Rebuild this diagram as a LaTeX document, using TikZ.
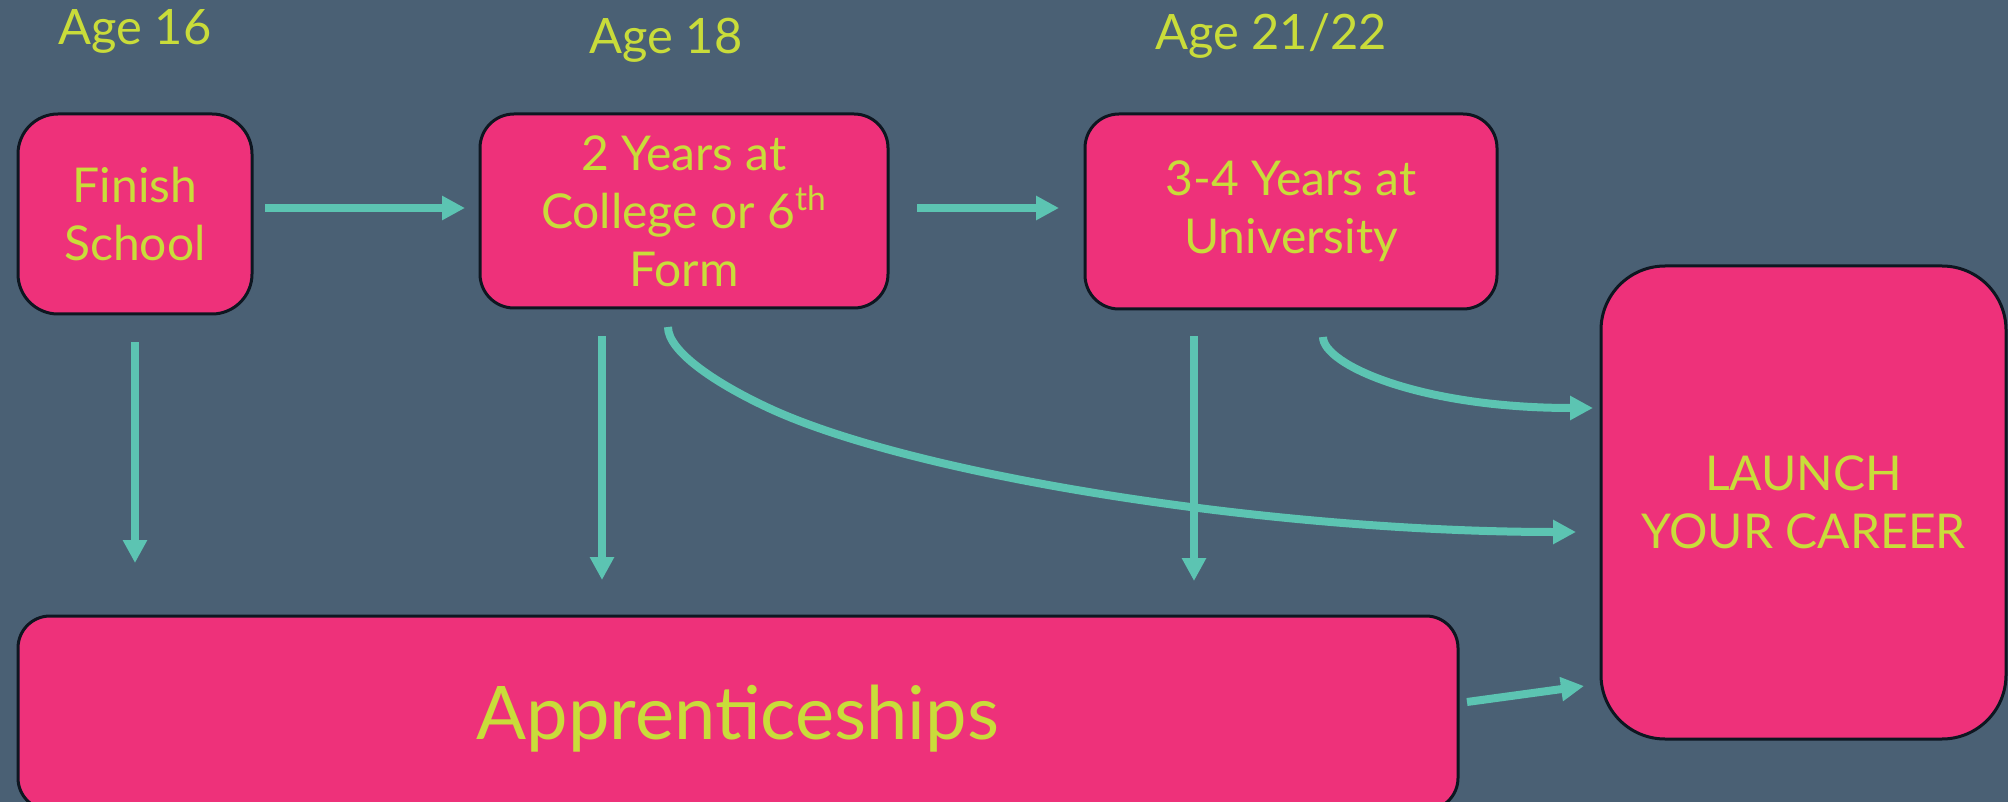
\documentclass[tikz,border=0pt]{standalone}
\usepackage{fontspec}
\setmainfont{Lato}
\usetikzlibrary{positioning,arrows.meta}
\definecolor{slate}{HTML}{4A6074}
\definecolor{hotpink}{HTML}{EE317A}
\definecolor{lime}{HTML}{C9DC3A}
\definecolor{arrowteal}{HTML}{5CC4B2}
\definecolor{edge}{HTML}{0E1620}

\begin{document}
\begin{tikzpicture}[x=0.5pt,y=-0.5pt,>={Triangle[length=11.5pt,width=11.5pt]},
box/.style={rectangle,rounded corners=#1,draw=edge,line width=1.5pt,fill=hotpink,text=lime,align=center,inner sep=0pt,outer sep=0pt,font=\fontsize{24}{29}\selectfont},
box/.default=17pt,
age label/.style={text=lime,inner sep=0pt,font=\fontsize{24.4}{29}\selectfont},
flow/.style={->,draw=arrowteal,fill=arrowteal,line width=4pt}]
\useasboundingbox[fill=slate] (0,0) rectangle (2008,802);
% boxes
  \node[box=20pt,minimum width=117pt,minimum height=100pt] (finish) at (135,214) {Finish\\School};
  \node[box,minimum width=204pt,minimum height=97pt] (college) [right=114pt of finish.north east,anchor=north west] {2 Years at\\College or 6\textsuperscript{th}\\Form};
  \node[box,minimum width=206pt,minimum height=97.5pt] (uni) [right=98.5pt of college.north east,anchor=north west] {3-4 Years at\\University};
  \node[box=32pt,minimum width=202.5pt,minimum height=236.5pt] (launch) [below right=76pt and 52pt of uni.north east,anchor=north west] {LAUNCH\\YOUR CAREER};
  \node[box=16pt,minimum width=720pt,minimum height=97pt,font=\fontsize{37}{44}\selectfont,text height=26.5pt,text depth=0pt] (appr) [below=151pt of finish.south west,anchor=north west] {Apprenticeships};
% ages
  \node[age label] (age16) [above=34.5pt of finish.north,anchor=base] {Age 16};
  \node[age label] (age18) [above=30pt of college.north,anchor=base,xshift=-9pt] {Age 18};
  \node[age label] (age21) [above=32pt of uni.north,anchor=base,xshift=-10pt] {Age 21/22};
% arrows
  \draw[flow,shorten <=6.5pt,shorten >=7.5pt] ([yshift=3pt]finish.east) -- ([yshift=3pt]finish.east -| college.west);
  \draw[flow,shorten <=14.5pt,shorten >=13pt] ([yshift=1.5pt]college.east) -- ([yshift=1.5pt]college.east -| uni.west);
  \draw[flow,shorten <=14pt,shorten >=26.5pt] (finish.south) -- (finish.south |- appr.north);
  \draw[flow,shorten <=14pt,shorten >=18pt] ([xshift=-41pt]college.south) -- ([xshift=-41pt]college.south |- appr.north);
  \draw[flow,shorten <=13.5pt,shorten >=17.5pt] ([xshift=-48.5pt]uni.south) -- ([xshift=-48.5pt]uni.south |- appr.north);
  \draw[flow,fill=none] ([xshift=-8pt,yshift=-9.5pt]college.south) .. controls +(0,25) and (718,385) .. (773,410)
    .. controls (923,477.5) and (1276,532) .. ([xshift=-12.5pt,yshift=-14.75pt]launch.west);
  \draw[flow,fill=none] ([xshift=16pt,yshift=-14pt]uni.south) .. controls +(0,27) and +(-175,0) .. ([xshift=-4pt,yshift=47.25pt]launch.west);
  \draw[flow] ([xshift=4.5pt,yshift=5.5pt]appr.east) -- ([xshift=-8.5pt,yshift=-91.75pt]launch.west);
\end{tikzpicture}
\end{document}
